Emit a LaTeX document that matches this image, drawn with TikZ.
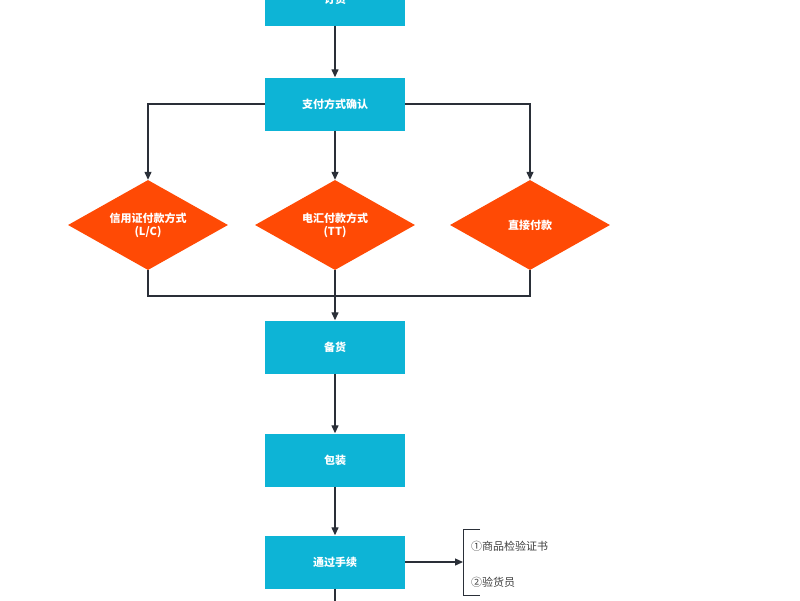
\documentclass[tikz,border=0pt]{standalone}
\usepackage{fontspec}
\setmainfont{Noto Sans CJK SC}
\usetikzlibrary{shapes.geometric,arrows.meta}

\tikzset{
    task/.style={rectangle,fill=taskcolor,text=white,font=\bfseries\fontsize{11}{13}\selectfont,minimum width=140pt,minimum height=53pt,inner sep=0},
    choice/.style={diamond,fill=choicecolor,text=white,font=\bfseries\fontsize{11}{13}\selectfont,minimum width=160pt,minimum height=90pt,aspect=1.78,inner sep=0,align=center},
    flow/.style={draw=linecolor,line width=1.3pt,-{Triangle[length=8pt,width=7pt]}},
    wire/.style={draw=linecolor,line width=1.3pt}
}
\definecolor{taskcolor}{HTML}{0DB4D6}
\definecolor{choicecolor}{HTML}{FF4A05}
\definecolor{linecolor}{HTML}{2A2F38}

\begin{document}
\begin{tikzpicture}[x=1pt,y=-1pt]
    \useasboundingbox (0,0) rectangle (800,600);
    \clip (0,0) rectangle (800,600);
    % tasks
    \node[task] (order) at (335,-1) {订货};
    \node[task] (pay) at (335,104) {支付方式确认};
    \node[choice] (lc) at (148,225) {信用证付款方式\\(L/C)};
    \node[choice] (tt) at (335,225) {电汇付款方式\\(TT)};
    \node[choice] (direct) at (530,225) {直接付款};
    \node[task] (stock) at (335,347) {备货};
    \node[task] (pack) at (335,460) {包装};
    \node[task] (clear) at (335,562) {通过手续};
    \coordinate (merge) at (335,296);
    \coordinate (bottom) at (335,620);
    \coordinate (brk) at (463,562);
    % connectors
    \draw[flow] (order) -- (pay);
    \draw[flow] (pay.west) -| (lc.north);
    \draw[flow] (pay) -- (tt);
    \draw[flow] (pay.east) -| (direct.north);
    \draw[wire] (lc.south) |- (merge) -| (direct.south);
    \draw[wire] (tt.south) -- (merge);
    \draw[flow] (merge) -- (stock);
    \draw[flow] (stock) -- (pack);
    \draw[flow] (pack) -- (clear);
    \draw[wire] (clear) -- (bottom);
    \draw[flow] (clear) -- (brk);
    % documents
    \draw[wire,line width=1pt] (480,529) -- (463,529) -- (463,595) -- (480,595);
    \node[anchor=west,text=black!75,font=\fontsize{11}{13}\selectfont,inner sep=0] (cert) at (471,546) {①商品检验证书};
    \node[anchor=west,text=black!75,font=\fontsize{11}{13}\selectfont,inner sep=0] (insp) at (471,582) {②验货员};
\end{tikzpicture}
\end{document}
